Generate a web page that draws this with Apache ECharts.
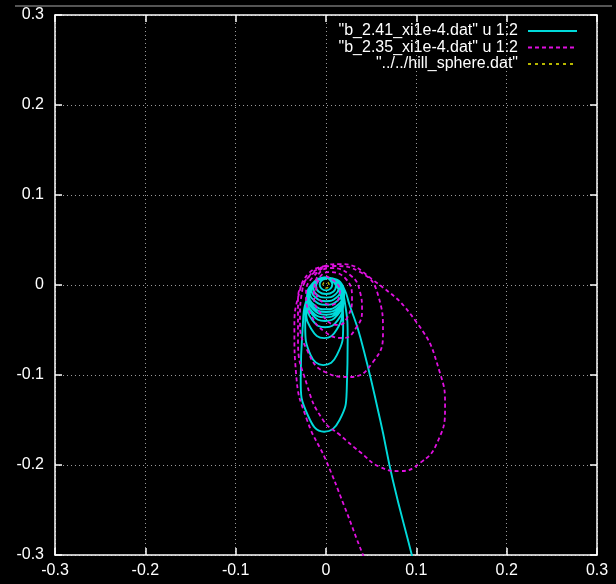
<!DOCTYPE html>
<html>
<head>
<meta charset="utf-8">
<script src="https://cdn.jsdelivr.net/npm/echarts@6/dist/echarts.min.js"></script>
<style>
  html, body { margin: 0; padding: 0; background: #000; }
  #main { width: 616px; height: 584px; }
</style>
</head>
<body>
<div id="main"></div>
<script>
// tick values on both axes
var ticks = [-0.3, -0.2, -0.1, 0, 0.1, 0.2, 0.3];

var names = ['"b_2.41_xi1e-4.dat" u 1:2', '"b_2.35_xi1e-4.dat" u 1:2', '"../../hill_sphere.dat"'];
var colors = ['#00dada', '#e010e0', '#b8b800'];
var dashes = ['solid', [4, 3], [3, 4]];

// b = 2.41 : loops growing downward, then escape to lower right
var orbit241 = [
  [0, 0.007], [-0.005, 0.005], [-0.007, 0.0005], [-0.005, -0.004], [0, -0.006], [0.005, -0.004], [0.007, 0.0005], [0.005, 0.005],
  [0, 0.008], [-0.008, 0.0054], [-0.011, -0.001], [-0.008, -0.0074], [0, -0.010], [0.008, -0.0074], [0.011, -0.001], [0.008, 0.0054],
  [0, 0.008], [-0.0099, 0.0048], [-0.014, -0.003], [-0.0099, -0.0108], [0, -0.014], [0.0099, -0.0108], [0.014, -0.003], [0.0099, 0.0048],
  [0, 0.008], [-0.0113, 0.0042], [-0.016, -0.005], [-0.0113, -0.0142], [0, -0.018], [0.0113, -0.0142], [0.016, -0.005], [0.0113, 0.0042],
  [0, 0.008], [-0.0127, 0.0036], [-0.018, -0.007], [-0.0127, -0.0176], [0, -0.022], [0.0127, -0.0176], [0.018, -0.007], [0.0127, 0.0036],
  [0, 0.008], [-0.0134, 0.0029], [-0.019, -0.0095], [-0.0134, -0.0219], [0, -0.027], [0.0134, -0.0219], [0.019, -0.0095], [0.0134, 0.0029],
  [0, 0.008], [-0.0141, 0.0024], [-0.020, -0.011], [-0.0141, -0.0244], [0, -0.030], [0.0141, -0.0244], [0.020, -0.011], [0.0141, 0.0024],
  [0, 0.008], [-0.0141, 0.002], [-0.020, -0.0125], [-0.0141, -0.027], [0, -0.033], [0.0141, -0.027], [0.020, -0.0125], [0.0141, 0.002],
  [-0.001, 0.008], [-0.0151, 0.0015], [-0.021, -0.014], [-0.0151, -0.030], [-0.001, -0.036], [0.0131, -0.030], [0.019, -0.014], [0.0131, 0.0015],
  [-0.001, 0.008], [-0.0151, 0.001], [-0.021, -0.016], [-0.0151, -0.033], [-0.001, -0.040], [0.0131, -0.033], [0.019, -0.016], [0.0131, 0.001],
  [-0.001, 0.008], [-0.0151, 0.000], [-0.021, -0.0195], [-0.0151, -0.039], [-0.001, -0.047], [0.0131, -0.039], [0.019, -0.0195], [0.0131, 0.000],
  [-0.002, 0.008], [-0.0161, -0.0018], [-0.022, -0.0255], [-0.0161, -0.0492], [-0.002, -0.059], [0.0121, -0.0492], [0.018, -0.0255], [0.0121, -0.0018],
  [-0.002, 0.008], [-0.016, -0.004], [-0.023, -0.045], [-0.017, -0.078], [-0.003, -0.089], [0.012, -0.078], [0.019, -0.045], [0.014, -0.004],
  [-0.002, 0.008], [-0.020, -0.012], [-0.026, -0.05], [-0.028, -0.105], [-0.020, -0.145], [-0.002, -0.163], [0.015, -0.15], [0.023, -0.115],
  [0.024, -0.06], [0.021, -0.02], [0.012, 0.004], [0, 0.008], [0.012, 0.006], [0.020, -0.004], [0.026, -0.022], [0.038, -0.058],
  [0.060, -0.150], [0.074, -0.217], [0.095, -0.300], [0.100, -0.320]
];

// b = 2.35 : tilted loops, one wide excursion, then escape to the bottom
var orbit235 = [
  [0, 0.010], [0.0155, -0.0056], [0.0066, -0.0222], [-0.0111, -0.0078],
  [0.0022, 0.0144], [0.021, 0.0078], [0.0288, -0.0144], [0.0233, -0.0367], [0.0133, -0.0444], [-0.0044, -0.0333], [-0.0133, -0.0111], [-0.0111, 0.0056],
  [0.0044, 0.0189], [0.0266, 0.0111], [0.0377, -0.0078], [0.0399, -0.0278], [0.0332, -0.0478], [0.0188, -0.0589], [-0.0011, -0.0522], [-0.0166, -0.0333], [-0.0221, -0.0111], [-0.0144, 0.0089],
  [0.0078, 0.0211], [0.0377, 0.0144], [0.0576, -0.0111], [0.0631, -0.0533], [0.052, -0.0856], [0.0266, -0.1022], [-0.0011, -0.0967], [-0.021, -0.0722], [-0.0288, -0.0389], [-0.0266, -0.0078], [-0.0122, 0.0144],
  [0.0155, 0.0233], [0.052, 0.0056], [0.1008, -0.0422], [0.1262, -0.0978], [0.1318, -0.1356], [0.1229, -0.1756], [0.1041, -0.1978], [0.0819, -0.2067], [0.0598, -0.2022], [0.0377, -0.1856], [0.0155, -0.1667], [-0.0033, -0.15], [-0.021, -0.1111], [-0.031, -0.0611], [-0.031, -0.0167], [-0.0177, 0.0111], [0, 0.0211],
  [-0.018, 0.014], [-0.030, -0.01], [-0.035, -0.05], [-0.033, -0.10], [-0.021, -0.15], [0.0, -0.195], [0.02, -0.245], [0.041, -0.30], [0.05, -0.32]
];

var hillSphere = [
  [0.0035, 0], [0.0025, 0.0025], [0, 0.0035], [-0.0025, 0.0025], [-0.0035, 0],
  [-0.0025, -0.0025], [0, -0.0035], [0.0025, -0.0025], [0.0035, 0]
];

var font = 'Liberation Sans';
var chart = echarts.init(document.getElementById('main'));

function axisBase(extra) {
  var a = {
    type: 'value',
    min: ticks[0],
    max: ticks[ticks.length - 1],
    interval: 0.1,
    axisLine: { show: true, onZero: false, lineStyle: { color: '#fff', width: 1.5 } },
    axisTick: { show: true, inside: true, length: 7, lineStyle: { color: '#fff', width: 1.5 } },
    axisLabel: { show: false },
    splitLine: { show: false }
  };
  for (var k in extra) a[k] = extra[k];
  return a;
}

var option = {
  backgroundColor: '#000',
  animation: false,
  graphic: [{
    type: 'line',
    shape: { x1: 15, y1: 6, x2: 612, y2: 6 },
    style: { stroke: '#555', lineWidth: 2 }
  }],
  grid: { left: 55, right: 19, top: 15, bottom: 29 },
  legend: [0, 1, 2].map(function (i) {
    return {
      data: [names[i]],
      right: 38,
      top: 23 + i * 16.5,
      align: 'right',
      itemWidth: 49,
      itemHeight: 12,
      padding: 0,
      selectedMode: false,
      itemStyle: { color: 'transparent', borderWidth: 0, opacity: 0 },
      textStyle: { color: '#fff', fontSize: 16, fontFamily: font, padding: [0, 5, 0, 0] }
    };
  }),
  xAxis: [
    axisBase({
      position: 'bottom',
      axisLabel: { show: true, color: '#fff', fontSize: 16, fontFamily: font, margin: 8 },
      splitLine: { show: true, lineStyle: { color: '#9a9a9a', width: 1, type: [1, 3] } }
    }),
    axisBase({ position: 'top' })
  ],
  yAxis: [
    axisBase({
      position: 'left',
      axisLabel: { show: true, color: '#fff', fontSize: 16, fontFamily: font, margin: 11 },
      splitLine: { show: true, lineStyle: { color: '#9a9a9a', width: 1, type: [1, 3] } }
    }),
    axisBase({ position: 'right' })
  ],
  series: [
    {
      name: names[2],
      type: 'line',
      data: hillSphere,
      smooth: 0.5,
      symbol: 'none',
      z: 1,
      lineStyle: { color: colors[2], width: 1.2, type: dashes[2] },
      itemStyle: { color: colors[2] }
    },
    {
      name: names[0],
      type: 'line',
      data: orbit241,
      smooth: 0.5,
      symbol: 'none',
      z: 2,
      lineStyle: { color: colors[0], width: 1.9, type: dashes[0] },
      itemStyle: { color: colors[0] }
    },
    {
      name: names[1],
      type: 'line',
      data: orbit235,
      smooth: 0.5,
      symbol: 'none',
      z: 3,
      lineStyle: { color: colors[1], width: 1.8, type: dashes[1] },
      itemStyle: { color: colors[1] }
    }
  ]
};

chart.setOption(option);
</script>
</body>
</html>
